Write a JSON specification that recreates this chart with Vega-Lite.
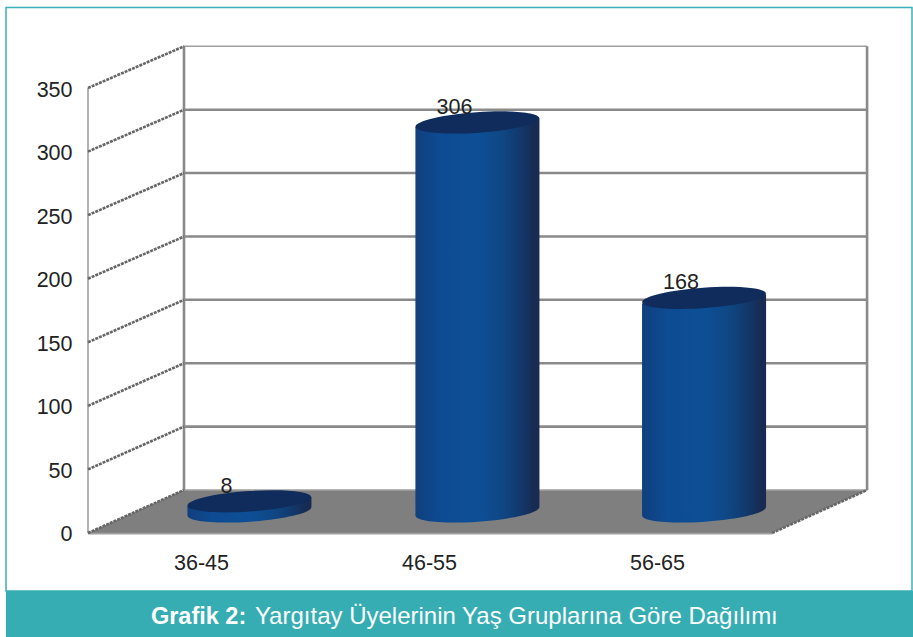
{
"$schema":"https://vega.github.io/schema/vega-lite/v6.json",
"width":913,"height":637,"padding":0,"autosize":{"type":"none"},
"background":"#ffffff",
"config":{"view":{"stroke":null},"font":"Liberation Sans"},
"datasets":{
"bars":[{"group":"36-45","pos":0.708,"value":8,"base":0},{"group":"46-55","pos":1.708,"value":306,"base":0},{"group":"56-65","pos":2.702,"value":168,"base":0}],
"body":[
{"group":"36-45","x":0.436,"top":21.5,"bottom":13.5},{"group":"36-45","x":0.98,"top":28.3,"bottom":20.3},
{"group":"46-55","x":1.436,"top":319.5,"bottom":13.5},{"group":"46-55","x":1.98,"top":326.3,"bottom":20.3},
{"group":"56-65","x":2.43,"top":180.5,"bottom":13.5},{"group":"56-65","x":2.974,"top":187.3,"bottom":20.3}],
"floor":[{"x":0,"y":0,"y2":0},{"x":0.421,"y":33.8,"y2":0},{"x":3,"y":33.8,"y2":0},{"x":3.417,"y":33.8,"y2":33.8}],
"side":[
{"level":0,"x":0,"y":0},{"level":0,"x":0.421,"y":33.8},
{"level":50,"x":0,"y":50},{"level":50,"x":0.421,"y":83.7},
{"level":100,"x":0,"y":100},{"level":100,"x":0.421,"y":133.5},
{"level":150,"x":0,"y":150},{"level":150,"x":0.421,"y":183.4},
{"level":200,"x":0,"y":200},{"level":200,"x":0.421,"y":233.2},
{"level":250,"x":0,"y":250},{"level":250,"x":0.421,"y":283.1},
{"level":300,"x":0,"y":300},{"level":300,"x":0.421,"y":332.9},
{"level":350,"x":0,"y":350},{"level":350,"x":0.421,"y":382.8},
{"level":-1,"x":3,"y":0},{"level":-1,"x":3.417,"y":33.8}],
"back":[
{"level":50,"x":0.421,"y":83.7},{"level":50,"x":3.417,"y":83.7},
{"level":100,"x":0.421,"y":133.5},{"level":100,"x":3.417,"y":133.5},
{"level":150,"x":0.421,"y":183.4},{"level":150,"x":3.417,"y":183.4},
{"level":200,"x":0.421,"y":233.2},{"level":200,"x":3.417,"y":233.2},
{"level":250,"x":0.421,"y":283.1},{"level":250,"x":3.417,"y":283.1},
{"level":300,"x":0.421,"y":332.9},{"level":300,"x":3.417,"y":332.9},
{"level":1000,"x":0.421,"y":33.8},{"level":1000,"x":0.421,"y":382.8},
{"level":1001,"x":3.417,"y":33.8},{"level":1001,"x":3.417,"y":382.8}],
"thin":[
{"level":350,"x":0.421,"y":382.8},{"level":350,"x":3.417,"y":382.8},
{"level":0,"x":0.421,"y":33.8},{"level":0,"x":3.417,"y":33.8},
{"level":-1,"x":0,"y":0},{"level":-1,"x":0,"y":350},
{"level":-2,"x":0,"y":-0.5},{"level":-2,"x":3,"y":-0.5}]
},
"encoding":{
"x":{"field":"x","type":"quantitative","title":null,"scale":{"domain":[-0.38596,3.61842],"nice":false,"zero":false},
"axis":{"values":[0.5,1.5,2.5],"labelExpr":"datum.value==0.5?'36-45':datum.value==1.5?'46-55':'56-65'","orient":"bottom","offset":-104,"domain":false,"ticks":false,"grid":false,"labelPadding":19.5,"labelOffset":-1,"labelFontSize":21.5,"labelFont":"Liberation Sans","labelColor":"#222222","labelAlign":"center","zindex":1}},
"y":{"field":"y","type":"quantitative","title":null,"scale":{"domain":[-81.8,419.22],"nice":false,"zero":false},
"axis":{"values":[0,50,100,150,200,250,300,350],"orient":"left","offset":-88,"domain":false,"ticks":false,"grid":false,"labelPadding":16,"labelOffset":2,"labelFontSize":21.5,"labelFont":"Liberation Sans","labelColor":"#222222","zindex":1}}
},
"layer":[
{"data":{"values":[{"x":-0.3596,"x2":3.614,"y":-45.6,"y2":413.3}]},
 "mark":{"type":"rect","fill":"#ffffff","stroke":"#3ab0b8","strokeWidth":1.5},
 "encoding":{"x2":{"field":"x2"},"y2":{"field":"y2"}}},
{"data":{"values":[{"x":-0.3596,"x2":3.61842,"y":-45.6,"y2":-81.8}]},
 "mark":{"type":"rect","fill":"#35adb3"},
 "encoding":{"x2":{"field":"x2"},"y2":{"field":"y2"}}},
{"data":{"name":"floor"},"mark":{"type":"area","fill":"#7f7f7f","opacity":1},"encoding":{"y2":{"field":"y2"}}},
{"data":{"name":"thin"},"mark":{"type":"line","stroke":"#a0a0a0","strokeWidth":1.6},"encoding":{"detail":{"field":"level"}}},
{"data":{"name":"back"},"mark":{"type":"line","stroke":"#8a8a8a","strokeWidth":2.6},"encoding":{"detail":{"field":"level"}}},
{"data":{"name":"side"},"mark":{"type":"line","stroke":"#666666","strokeWidth":2.6,"strokeDash":[3,1]},"encoding":{"detail":{"field":"level"}}},
{"data":{"name":"bars"},
 "mark":{"type":"point","filled":true,"opacity":1,"shape":"M-1,0 C-1,-0.091 -0.552,-0.165 0,-0.165 C0.552,-0.165 1,-0.091 1,0 C1,0.091 0.552,0.165 0,0.165 C-0.552,0.165 -1,0.091 -1,0 Z","size":15376,"angle":-4,"yOffset":-21.5,"fill":{"x1":0,"y1":0,"x2":1,"y2":0,"gradient":"linear","stops":[{"offset":0,"color":"#113f7d"},{"offset":0.2,"color":"#0d4b92"},{"offset":0.5,"color":"#0d4f96"},{"offset":0.7,"color":"#0f4784"},{"offset":0.85,"color":"#12386b"},{"offset":0.95,"color":"#172c54"},{"offset":1,"color":"#182a50"}]}},
 "encoding":{"x":{"field":"pos","type":"quantitative"},"y":{"field":"base","type":"quantitative"}}},
{"data":{"name":"body"},
 "mark":{"type":"area","opacity":1,"fill":{"x1":0,"y1":0,"x2":1,"y2":0,"gradient":"linear","stops":[{"offset":0,"color":"#113f7d"},{"offset":0.2,"color":"#0d4b92"},{"offset":0.5,"color":"#0d4f96"},{"offset":0.7,"color":"#0f4784"},{"offset":0.85,"color":"#12386b"},{"offset":0.95,"color":"#172c54"},{"offset":1,"color":"#182a50"}]}},
 "encoding":{"y":{"field":"top","type":"quantitative"},"y2":{"field":"bottom"},"detail":{"field":"group"}}},
{"data":{"name":"bars"},
 "mark":{"type":"point","filled":true,"opacity":1,"shape":"M-1,0 C-1,-0.091 -0.552,-0.165 0,-0.165 C0.552,-0.165 1,-0.091 1,0 C1,0.091 0.552,0.165 0,0.165 C-0.552,0.165 -1,0.091 -1,0 Z","size":15376,"angle":-4,"yOffset":-21.5,"fill":"#0f2c5c"},
 "encoding":{"x":{"field":"pos","type":"quantitative"},"y":{"field":"value","type":"quantitative"}}},
{"data":{"name":"bars"},
 "mark":{"type":"text","fontSize":21.5,"font":"Liberation Sans","fill":"#222222","xOffset":-23,"yOffset":-36,"baseline":"middle","align":"center"},
 "encoding":{"x":{"field":"pos","type":"quantitative"},"y":{"field":"value","type":"quantitative"},"text":{"field":"value","type":"quantitative"}}},
{"data":{"values":[{"x":0.276,"y":-66.1,"t":"Grafik 2:"}]},
 "mark":{"type":"text","fontSize":23.5,"fontWeight":"bold","font":"Liberation Sans","fill":"#ffffff","align":"left","baseline":"middle"},
 "encoding":{"text":{"field":"t"}}},
{"data":{"values":[{"x":0.732,"y":-66.1,"t":"Yargıtay Üyelerinin Yaş Gruplarına Göre Dağılımı"}]},
 "mark":{"type":"text","fontSize":24,"font":"Liberation Sans","fill":"#ffffff","align":"left","baseline":"middle"},
 "encoding":{"text":{"field":"t"}}}
]
}
